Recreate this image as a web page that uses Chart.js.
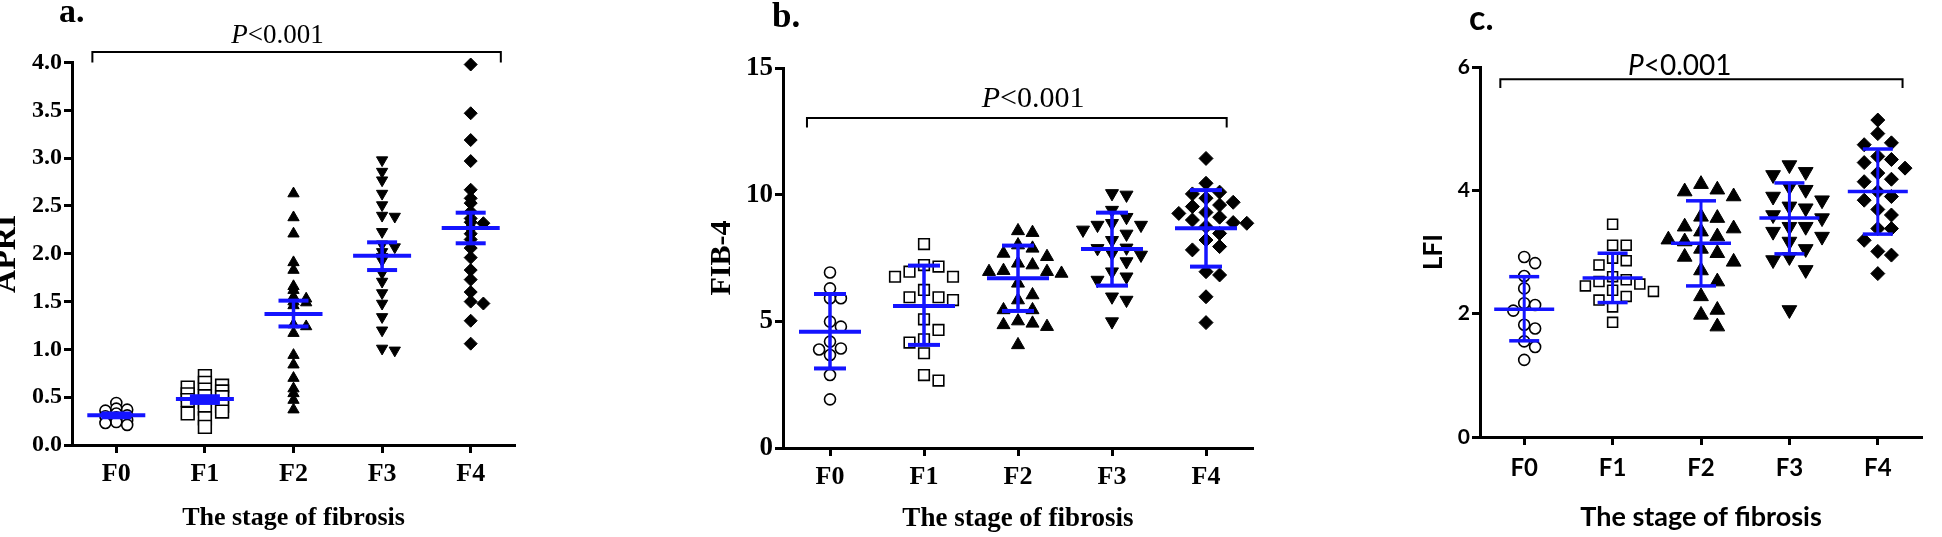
<!DOCTYPE html>
<html>
<head>
<meta charset="utf-8">
<script src="https://cdn.jsdelivr.net/npm/chart.js@4.4.0/dist/chart.umd.min.js"></script>
<style>
    html, body { margin: 0; padding: 0; background: #fff; }
    body { width: 1942px; height: 537px; position: relative; overflow: hidden; }
    .painel { position: absolute; top: 0; height: 537px; }
</style>
</head>
<body>
<div class="painel" style="left:0;width:640px"><canvas id="graficoApri"></canvas></div>
<div class="painel" style="left:660px;width:680px"><canvas id="graficoFib"></canvas></div>
<div class="painel" style="left:1380px;width:562px"><canvas id="graficoLfi"></canvas></div>
<script>
// Estágios de fibrose (eixo x dos três painéis)
const estagios = ['F0', 'F1', 'F2', 'F3', 'F4'];

// a. APRI
const apriTicks = [0, 0.5, 1, 1.5, 2, 2.5, 3, 3.5, 4];
const apriF0 = [0.44, 0.38, 0.37, 0.36, 0.33, 0.31, 0.30, 0.29, 0.26, 0.24, 0.23, 0.21];
const apriF1 = [0.72, 0.65, 0.62, 0.60, 0.58, 0.56, 0.53, 0.51, 0.50, 0.47, 0.45, 0.41, 0.38, 0.35, 0.33, 0.28, 0.19];
const apriF2 = [2.63, 2.38, 2.21, 1.91, 1.83, 1.66, 1.62, 1.55, 1.53, 1.50, 1.49, 1.46, 1.26, 1.24, 1.17, 0.94, 0.84, 0.70, 0.59, 0.54, 0.47, 0.37];
const apriF3 = [2.98, 2.86, 2.77, 2.63, 2.51, 2.40, 2.39, 2.23, 2.10, 2.07, 2.02, 1.97, 1.93, 1.80, 1.71, 1.59, 1.48, 1.34, 1.20, 1.01, 0.99];
const apriF4 = [3.98, 3.47, 3.19, 2.97, 2.67, 2.58, 2.53, 2.44, 2.37, 2.33, 2.32, 2.27, 2.21, 2.15, 2.06, 1.96, 1.83, 1.73, 1.60, 1.50, 1.48, 1.30, 1.06];
const apriMedia = [0.31, 0.48, 1.37, 1.98, 2.27];
const apriInf = [0.29, 0.44, 1.24, 1.83, 2.11];
const apriSup = [0.33, 0.51, 1.51, 2.12, 2.43];

// b. FIB-4
const fibTicks = [0, 5, 10, 15];
const fibF0 = [6.93, 6.30, 5.91, 5.91, 4.99, 4.79, 4.20, 3.93, 3.89, 3.67, 2.88, 1.92];
const fibF1 = [8.05, 7.22, 7.16, 6.96, 6.76, 6.76, 6.24, 5.95, 5.95, 5.84, 5.08, 4.66, 4.29, 4.16, 3.74, 2.88, 2.66];
const fibF2 = [8.57, 8.50, 8.01, 7.88, 7.68, 7.55, 7.29, 7.22, 7.00, 6.96, 6.96, 6.89, 6.50, 6.04, 5.84, 5.45, 5.45, 5.01, 4.92, 4.86, 4.79, 4.07];
const fibF3 = [10.05, 9.99, 9.39, 9.11, 8.87, 8.80, 8.80, 8.61, 8.45, 8.20, 7.90, 7.88, 7.68, 7.62, 7.36, 6.96, 6.76, 6.63, 5.97, 5.84, 4.99];
const fibF4 = [11.43, 10.45, 10.10, 10.03, 9.86, 9.70, 9.59, 9.53, 9.30, 9.26, 9.11, 9.00, 8.90, 8.87, 8.74, 8.47, 8.21, 7.95, 7.82, 6.96, 6.83, 5.97, 4.95];
const fibMedia = [4.59, 5.61, 6.70, 7.86, 8.67];
const fibInf = [3.14, 4.07, 5.41, 6.41, 7.16];
const fibSup = [6.08, 7.20, 7.99, 9.29, 10.18];

// c. LFI
const lfiTicks = [0, 2, 4, 6];
const lfiF0 = [2.92, 2.82, 2.61, 2.41, 2.17, 2.14, 2.05, 1.82, 1.76, 1.55, 1.46, 1.25];
const lfiF1 = [3.45, 3.11, 3.11, 2.90, 2.86, 2.79, 2.60, 2.55, 2.52, 2.48, 2.45, 2.38, 2.36, 2.28, 2.22, 2.11, 1.86];
const lfiF2 = [4.10, 4.01, 3.98, 3.90, 3.57, 3.55, 3.41, 3.38, 3.33, 3.25, 3.20, 3.17, 3.05, 2.98, 2.92, 2.84, 2.70, 2.52, 2.28, 2.06, 1.98, 1.79];
const lfiF3 = [4.41, 4.30, 4.25, 4.06, 4.01, 3.90, 3.84, 3.74, 3.71, 3.60, 3.55, 3.41, 3.41, 3.33, 3.25, 3.17, 3.05, 2.92, 2.87, 2.71, 2.06];
const lfiF4 = [5.14, 4.92, 4.77, 4.74, 4.55, 4.50, 4.45, 4.36, 4.28, 4.18, 4.14, 3.98, 3.90, 3.84, 3.69, 3.60, 3.38, 3.38, 3.19, 3.01, 2.95, 2.65];
const lfiMedia = [2.07, 2.58, 3.14, 3.55, 3.98];
const lfiInf = [1.56, 2.18, 2.45, 2.97, 3.29];
const lfiSup = [2.60, 2.98, 3.83, 4.12, 4.67];

// Símbolos de cada estágio (estilo GraphPad)
const marcadores = [
    { pointStyle: 'circle', rotation: 0, fill: '#fff' },
    { pointStyle: 'rect', rotation: 0, fill: '#fff' },
    { pointStyle: 'triangle', rotation: 0, fill: '#000' },
    { pointStyle: 'triangle', rotation: 180, fill: '#000' },
    { pointStyle: 'rectRot', rotation: 0, fill: '#000' }
];
const AZUL = '#1414ff';
const SERIF = "'Liberation Serif', 'Times New Roman', serif";
const SANS = "Lato, 'DejaVu Sans', sans-serif";

// Espalha horizontalmente os pontos que se sobrepõem (dot plot tipo beeswarm)
function espalhar(valores, passoX, passoY) {
    const ordem = valores.map((v, i) => i).sort((a, b) => valores[b] - valores[a]);
    const colocados = [];
    const desloc = new Array(valores.length).fill(0);
    ordem.forEach(i => {
        const v = valores[i];
        for (let k = 0; k < 30; k++) {
            const o = k === 0 ? 0 : (k % 2 ? 1 : -1) * Math.ceil(k / 2) * passoX;
            const bate = colocados.some(p => Math.abs(p.o - o) < passoX * 0.99 && Math.abs(p.v - v) < passoY);
            if (!bate) { desloc[i] = o; colocados.push({ o, v }); break; }
        }
    });
    return desloc;
}

function montarSeries(grupos, raios, pxCat, pxUnid, aperto) {
    return grupos.map((valores, g) => {
        const m = marcadores[g];
        const desloc = espalhar(valores, (raios[g] * 1.8 + 1) / pxCat, (raios[g] * aperto) / pxUnid);
        return {
            label: estagios[g],
            data: valores.map((v, i) => ({ x: g + desloc[i], y: v })),
            pointStyle: m.pointStyle,
            rotation: m.rotation,
            backgroundColor: m.fill,
            borderColor: '#000',
            borderWidth: m.fill === '#fff' ? 1.6 : 1,
            pointRadius: raios[g],
            pointHoverRadius: raios[g],
            clip: false
        };
    });
}

// Média e barras de erro em azul
const barrasErro = {
    id: 'barrasErro',
    afterDatasetsDraw(chart, args, o) {
        const { ctx, scales: { x, y } } = chart;
        ctx.save();
        ctx.strokeStyle = AZUL;
        ctx.lineCap = 'butt';
        const linha = (x1, y1, x2, y2, w) => {
            ctx.lineWidth = w;
            ctx.beginPath(); ctx.moveTo(x1, y1); ctx.lineTo(x2, y2); ctx.stroke();
        };
        o.media.forEach((m, i) => {
            const px = x.getPixelForValue(i);
            const pm = y.getPixelForValue(m);
            const pi = y.getPixelForValue(o.inf[i]);
            const ps = y.getPixelForValue(o.sup[i]);
            linha(px, pi, px, ps, o.espessura - 0.5);
            linha(px - o.tampa, pi, px + o.tampa, pi, o.espessura);
            linha(px - o.tampa, ps, px + o.tampa, ps, o.espessura);
            linha(px - o.meia, pm, px + o.meia, pm, o.espessura);
        });
        ctx.restore();
    }
};

// Letra do painel, colchete e valor de P
const anotacoes = {
    id: 'anotacoes',
    afterDraw(chart, args, o) {
        const { ctx, scales: { x, y } } = chart;
        ctx.save();
        ctx.fillStyle = '#000';
        ctx.textBaseline = 'alphabetic';
        ctx.textAlign = 'left';
        ctx.font = o.fonteLetra;
        ctx.fillText(o.letra, o.letraX, o.letraY);

        const x1 = x.getPixelForValue(o.colX1), x2 = x.getPixelForValue(o.colX2);
        const yt = y.getPixelForValue(o.colY), yp = y.getPixelForValue(o.colPe);
        ctx.strokeStyle = '#000';
        ctx.lineWidth = 2;
        ctx.beginPath();
        ctx.moveTo(x1, yp); ctx.lineTo(x1, yt); ctx.lineTo(x2, yt); ctx.lineTo(x2, yp);
        ctx.stroke();

        ctx.font = o.fonteP;
        const wP = ctx.measureText('P').width;
        ctx.font = o.fonteResto;
        const wR = ctx.measureText('<0.001').width;
        const cx = x.getPixelForValue(o.pX) - (wP + wR) / 2;
        const by = yt - o.pGap;
        ctx.font = o.fonteP;
        ctx.fillText('P', cx, by);
        ctx.font = o.fonteResto;
        ctx.fillText('<0.001', cx + wP, by);
        ctx.restore();
    }
};

function criarPainel(id, p) {
    const fonteEixo = (size, family) => ({ family, size, weight: 'bold', lineHeight: 1.2 });
    return new Chart(document.getElementById(id), {
        type: 'scatter',
        data: { datasets: montarSeries(p.grupos, p.raios, p.pxCat, p.pxUnid, p.aperto) },
        options: {
            responsive: true,
            maintainAspectRatio: false,
            animation: false,
            events: [],
            layout: { padding: { left: 0, top: p.topo, right: p.direita, bottom: 0 } },
            plugins: {
                legend: { display: false },
                tooltip: { enabled: false },
                barrasErro: { media: p.media, inf: p.inf, sup: p.sup, meia: p.meia, tampa: p.tampa, espessura: p.espessura },
                anotacoes: p.anot
            },
            scales: {
                x: {
                    type: 'linear',
                    min: -0.5,
                    max: 4.5,
                    afterBuildTicks: s => { s.ticks = estagios.map((e, i) => ({ value: i })); },
                    afterFit: s => { s.height = p.alturaX; },
                    ticks: {
                        callback: v => estagios[v],
                        color: '#000',
                        font: fonteEixo(p.fonteTickX, p.familia),
                        padding: p.padTickX,
                        maxRotation: 0,
                        autoSkip: false
                    },
                    grid: { display: true, drawOnChartArea: false, drawTicks: true, tickLength: 8, tickWidth: 3, tickColor: '#000' },
                    border: { display: true, color: '#000', width: 3 },
                    title: {
                        display: true,
                        text: 'The stage of fibrosis',
                        color: '#000',
                        font: fonteEixo(p.fonteTituloX, p.familia),
                        padding: { top: 0, bottom: p.padTituloX }
                    }
                },
                y: {
                    min: p.ticks[0],
                    max: p.ticks[p.ticks.length - 1],
                    afterBuildTicks: s => { s.ticks = p.ticks.map(v => ({ value: v })); },
                    afterFit: s => { s.width = p.larguraY; },
                    ticks: {
                        callback: p.formato,
                        color: '#000',
                        font: fonteEixo(p.fonteTickY, p.familia),
                        padding: 2
                    },
                    grid: { display: true, drawOnChartArea: false, drawTicks: true, tickLength: 8, tickWidth: 3, tickColor: '#000' },
                    border: { display: true, color: '#000', width: 3 },
                    title: {
                        display: true,
                        text: p.tituloY,
                        color: '#000',
                        font: fonteEixo(p.fonteTituloY, p.familia),
                        padding: { top: p.padTituloY, bottom: 0 }
                    }
                }
            }
        },
        plugins: [barrasErro, anotacoes]
    });
}

criarPainel('graficoApri', {
    grupos: [apriF0, apriF1, apriF2, apriF3, apriF4],
    raios: [5.5, 9, 6.5, 6.5, 6.5], pxCat: 88.7, pxUnid: 191.2, aperto: 1.1,
    media: apriMedia, inf: apriInf, sup: apriSup, meia: 29, tampa: 15, espessura: 4,
    ticks: apriTicks, formato: v => v.toFixed(1), tituloY: 'APRI',
    familia: SERIF, fonteTickX: 26, fonteTickY: 24, fonteTituloX: 26, fonteTituloY: 32,
    topo: 62.6, direita: 125, larguraY: 72, alturaX: 92,
    padTickX: 6, padTituloX: 3.4, padTituloY: -12,
    anot: {
        letra: 'a.', fonteLetra: 'bold 34px ' + SERIF, letraX: 59, letraY: 22,
        colX1: -0.27, colX2: 4.34, colY: 4.11, colPe: 4.0,
        pX: 1.82, pGap: 9, fonteP: 'italic 27px ' + SERIF, fonteResto: '27px ' + SERIF
    }
});

criarPainel('graficoFib', {
    grupos: [fibF0, fibF1, fibF2, fibF3, fibF4],
    raios: [5.5, 7.5, 7.5, 7.5, 7], pxCat: 94, pxUnid: 25.33, aperto: 1.7,
    media: fibMedia, inf: fibInf, sup: fibSup, meia: 31, tampa: 16, espessura: 4,
    ticks: fibTicks, formato: v => String(v), tituloY: 'FIB-4',
    familia: SERIF, fonteTickX: 26, fonteTickY: 27, fonteTituloX: 27, fonteTituloY: 30,
    topo: 68, direita: 87, larguraY: 123, alturaX: 89,
    padTickX: 6, padTituloX: 1.4, padTituloY: 44,
    anot: {
        letra: 'b.', fonteLetra: 'bold 35px ' + SERIF, letraX: 112, letraY: 27,
        colX1: -0.245, colX2: 4.22, colY: 13.03, colPe: 12.65,
        pX: 2.16, pGap: 11, fonteP: 'italic 30px ' + SERIF, fonteResto: '30px ' + SERIF
    }
});

criarPainel('graficoLfi', {
    grupos: [lfiF0, lfiF1, lfiF2, lfiF3, lfiF4],
    raios: [5.5, 7, 8.5, 8.5, 7], pxCat: 88.3, pxUnid: 61.67, aperto: 1.7,
    media: lfiMedia, inf: lfiInf, sup: lfiSup, meia: 30, tampa: 15, espessura: 3.5,
    ticks: lfiTicks, formato: v => String(v), tituloY: 'LFI',
    familia: SANS, fonteTickX: 24, fonteTickY: 21, fonteTituloX: 27, fonteTituloY: 26,
    topo: 67, direita: 20, larguraY: 100, alturaX: 100,
    padTickX: 9, padTituloX: 4, padTituloY: 38,
    anot: {
        letra: 'c.', fonteLetra: 'bold 34px ' + SANS, letraX: 89, letraY: 30,
        colX1: -0.27, colX2: 4.28, colY: 5.80, colPe: 5.66,
        pX: 1.76, pGap: 4, fonteP: 'italic 28px ' + SANS, fonteResto: '28px ' + SANS
    }
});
</script>
</body>
</html>
